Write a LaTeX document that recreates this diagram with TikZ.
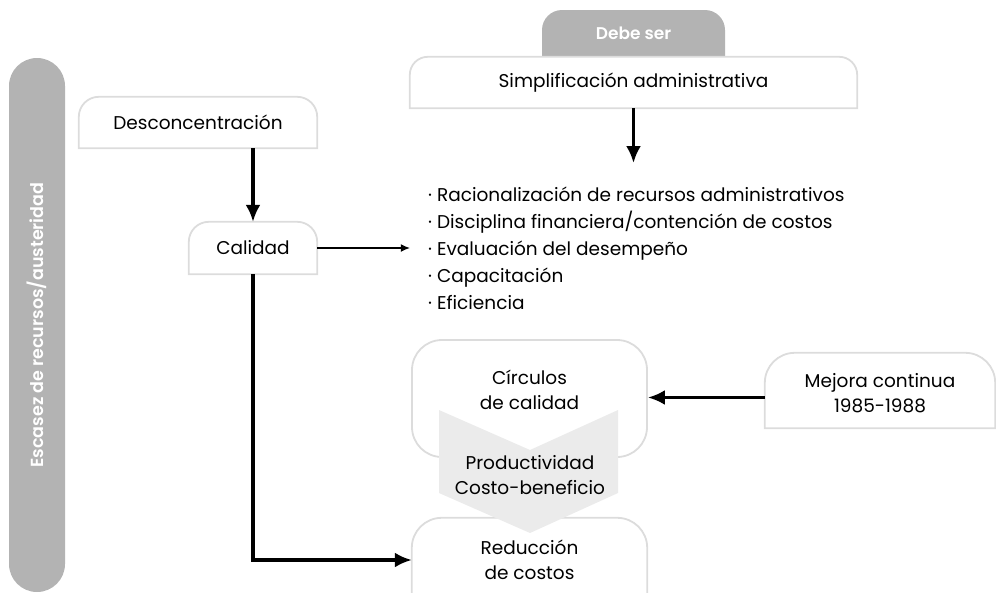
\documentclass[tikz,border=0pt]{standalone}
\usepackage{fontspec}
\setmainfont{Poppins}[BoldFont={* SemiBold}]
\usepackage{tikz}
\usetikzlibrary{arrows.meta}
\usetikzlibrary{calc}
\definecolor{barragris}{HTML}{B3B3B3}
\definecolor{bordegris}{HTML}{DCDCDC}
\definecolor{flechagris}{HTML}{EBEBEB}

\begin{document}
\begin{tikzpicture}[x=1pt,y=-1pt,
    caja/.style={rectangle, inner sep=0pt, align=center, font=\fontsize{18.5}{25}\selectfont},
    grueso/.style={line width=3.2pt, -{Latex[length=17pt,width=15pt]}},
    delgado/.style={line width=1.1pt, -{Latex[length=9pt,width=8pt]}},
    borde/.style={draw=bordegris, line width=1.8pt}]
        \newcommand{\figcajaradio}{20pt}
        \newcommand{\figcircradio}{30pt}
        \useasboundingbox (0,0) rectangle (996,592);
        \clip (0,0) rectangle (996,592);
        % barra lateral
        \node[caja, rotate=90, fill=barragris, rounded corners=28pt, minimum width=534pt, minimum height=56pt, text=white, font=\fontsize{17.5}{20}\selectfont\bfseries] (escasez) at (37,325) {Escasez de recursos/austeridad};
        % pestana superior
        \node[caja, minimum width=183pt, minimum height=46pt, text=white, font=\fontsize{17}{20}\selectfont\bfseries,
            path picture={\fill[barragris] (path picture bounding box.south west) [rounded corners=\figcajaradio] -- (path picture bounding box.north west) -- (path picture bounding box.north east) [sharp corners] -- (path picture bounding box.south east) -- cycle;}] (debe) at (633.5,33) {Debe ser};
        % cajas
        \node[caja, minimum width=447pt, minimum height=51pt] (simp) at (633.5,82.5) {Simplificación administrativa};
        \node[caja, minimum width=238pt, minimum height=51pt] (desc) at (198,122.5) {Desconcentración};
        \node[caja, minimum width=128pt, minimum height=52pt] (cal) at (253,248) {Calidad};
        \node[caja, anchor=west, align=left, font=\fontsize{18.5}{27}\selectfont] (lista) at (428,248) {· Racionalización de recursos administrativos\\· Disciplina financiera/contención de costos\\· Evaluación del desempeño\\· Capacitación\\· Eficiencia};
        \node[caja, borde, rounded corners=\figcircradio, minimum width=235pt, minimum height=117pt, text depth=17pt] (circ) at (529.5,398.5) {Círculos\\de calidad};
        \node[caja, minimum width=230pt, minimum height=75pt, text height=45pt] (mej) at (880,390.5) {Mejora continua\\1985-1988};
        \node[caja, minimum width=235pt, minimum height=84pt] (reduc) at (529.5,560) {Reducción\\de costos};
        \coordinate (simpfin) at (633.5,163);
        % bordes con esquinas superiores redondeadas
        \foreach \n/\r in {simp/18,desc/20,cal/20,mej/30,reduc/30}
            \draw[borde] (\n.south west) [rounded corners=\r pt] -- (\n.north west) -- (\n.north east) [sharp corners] -- (\n.south east) -- cycle;
        % flecha gris
        \fill[flechagris] (439,410) -- (530,450) -- (618,410) -- (618,493) -- (530,533) -- (439,493) -- cycle;
        \node[caja] (prod) at (530,475) {Productividad\\Costo-beneficio};
        % conectores
        \draw[grueso] (desc.south -| cal.north) -- (cal.north);
        \draw[delgado] (cal.east) -- (cal.east -| simp.west);
        \draw[grueso] (cal.south) |- (reduc.west);
        \draw[grueso] (simp.south) -- (simpfin);
        \draw[grueso] ([yshift=-7pt]mej.west) -- ([yshift=-7pt]mej.west -| circ.east);
    \end{tikzpicture}
\end{document}
